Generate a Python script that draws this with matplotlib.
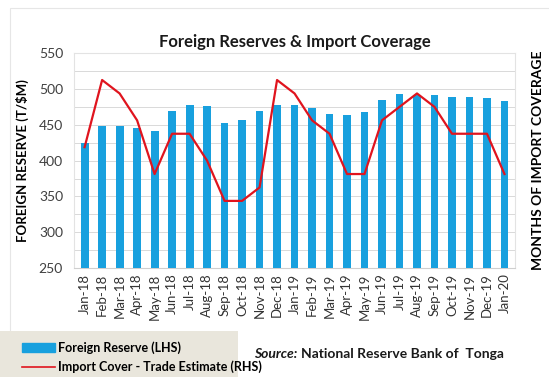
import matplotlib.pyplot as plt
from matplotlib.lines import Line2D
from matplotlib.patches import Patch, Rectangle

plt.rcParams['font.family'] = ['Lato', 'DejaVu Sans']

months = ['Jan-18', 'Feb-18', 'Mar-18', 'Apr-18', 'May-18', 'Jun-18', 'Jul-18',
          'Aug-18', 'Sep-18', 'Oct-18', 'Nov-18', 'Dec-18', 'Jan-19', 'Feb-19',
          'Mar-19', 'Apr-19', 'May-19', 'Jun-19', 'Jul-19', 'Aug-19', 'Sep-19',
          'Oct-19', 'Nov-19', 'Dec-19', 'Jan-20']
reserves = [424, 448, 448, 446, 442, 469, 477, 476, 452, 457, 469, 478, 478, 473,
            465, 464, 468, 484, 493, 492, 491, 489, 489, 487, 483]
# months of import cover (right axis, no tick labels shown)
cover = [6.9, 7.4, 7.3, 7.1, 6.7, 7.0, 7.0, 6.8, 6.5, 6.5, 6.6, 7.4, 7.3, 7.1,
         7.0, 6.7, 6.7, 7.1, 7.2, 7.3, 7.2, 7.0, 7.0, 7.0, 6.7]

blue = '#18a0de'
red = '#e0141e'

fig = plt.figure(figsize=(5.49, 3.77), dpi=100)
fig.patches.append(Rectangle((0.018, -0.1), 1.0, 1.08, transform=fig.transFigure,
                             fill=False, ec='#e6e6e6', lw=0.8))

ax = fig.add_axes([0.135, 0.289, 0.803, 0.570])
x = range(len(months))
ax.bar(x, reserves, width=0.45, color=blue, zorder=3)
ax.set_ylim(250, 550)
ax.set_xlim(-0.6, len(months) - 0.4)
ax.set_yticks(range(250, 551, 50))
ax.set_yticks(range(275, 550, 50), minor=True)
ax.grid(axis='y', which='both', color='#d9d9d9', lw=0.7, zorder=0)
ax.set_xticks(list(x))
ax.set_xticklabels(months, rotation=90, fontsize=9.5, color='#333333')
ax.tick_params(axis='y', which='both', length=0, labelsize=10, labelcolor='#404040', pad=8)
ax.tick_params(axis='x', length=0, pad=4)
for s in ax.spines.values():
    s.set_color('#e3e3e3')
    s.set_linewidth(0.8)
ax.spines['bottom'].set_color('#cfcfcf')
ax.set_ylabel('FOREIGN RESERVE (T/$M)', fontsize=9.5, fontweight='bold', labelpad=7)

ax2 = ax.twinx()
ax2.plot(x, cover, color=red, lw=1.6, zorder=4)
ax2.set_ylim(6.0, 7.6)
ax2.set_yticks([])
for s in ax2.spines.values():
    s.set_visible(False)
ax2.set_ylabel('MONTHS OF IMPORT COVERAGE', fontsize=10, fontweight='bold', labelpad=12)

fig.text(0.538, 0.876, 'Foreign Reserves & Import Coverage', ha='center',
         fontsize=12, fontweight='bold', color='#1a1a1a')

# legend panel
fig.patches.append(Rectangle((0, 0), 0.434, 0.122, transform=fig.transFigure,
                             fc='#e9e6dc', ec='none'))
handles = [Patch(color=blue, label='Foreign Reserve (LHS)'),
           Line2D([], [], color=red, lw=1.2, label='Import Cover - Trade Estimate (RHS)')]
fig.legend(handles=handles, loc='lower left', bbox_to_anchor=(0.02, -0.02),
           frameon=False, handlelength=2.6, handletextpad=0.3,
           labelspacing=0.5, prop={'weight': 'bold', 'size': 9})

src = fig.text(0.462, 0.05, 'Source:', fontsize=10, style='italic',
               fontweight='bold', color='#1a1a1a')
ax.annotate('National Reserve Bank of  Tonga', xy=(1, 0), xycoords=src,
            xytext=(3, 0), textcoords='offset points', va='bottom',
            fontsize=10, fontweight='bold', color='#1a1a1a', annotation_clip=False)

fig.savefig('out.png', dpi=100)
